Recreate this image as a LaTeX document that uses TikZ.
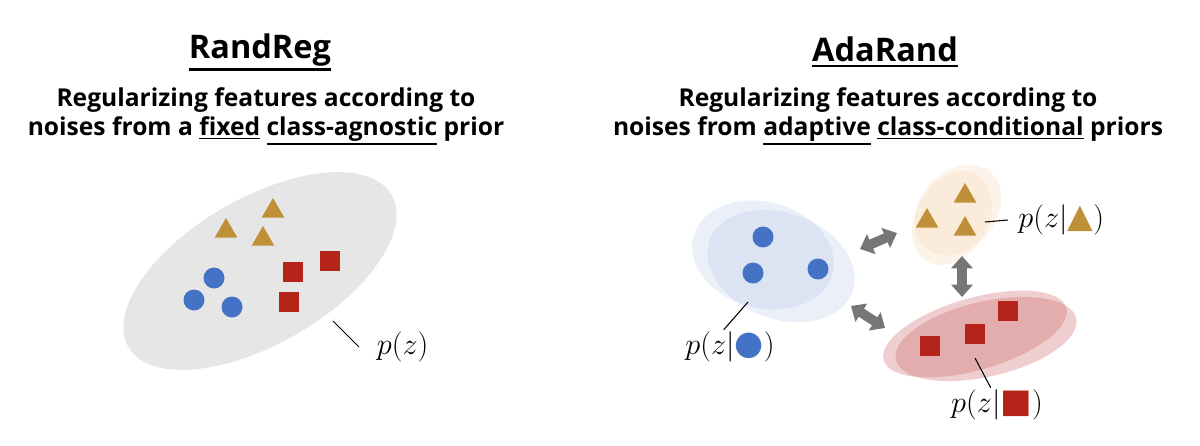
\documentclass[tikz,border=0pt]{standalone}
\usepackage[no-math]{fontspec}
\usetikzlibrary{arrows.meta,shapes.geometric}
\newfontfamily\headfont{Open Sans}
\newfontfamily\symfont{DejaVu Sans}
\definecolor{dotblue}{HTML}{4472C4}
\definecolor{trigold}{HTML}{BF9038}
\definecolor{sqred}{HTML}{B52418}
\definecolor{arrgray}{HTML}{767676}
\definecolor{priorgray}{HTML}{E6E6E6}
\definecolor{blueblob}{HTML}{C0CEEB}
\definecolor{goldblob}{HTML}{F6DABD}
\definecolor{redblob}{HTML}{CC6A6A}
% underline with a chosen thickness
\newcommand\ulbar[2][0.9pt]{\leavevmode\vtop{\hbox{#2}\kern1.3pt\hrule height #1}}
% coloured class mark inside a label
\newcommand\clsmark[2]{\mbox{\textcolor{#1}{\symfont\fontsize{19}{19}\selectfont #2}}}
\begin{document}
\begin{tikzpicture}[x=0.2mm,y=-0.2mm,
    dot/.style={circle,fill=dotblue,inner sep=0pt,minimum size=4.2mm},
    tri/.style={regular polygon,regular polygon sides=3,fill=trigold,inner sep=0pt,minimum size=5.2mm},
    sq/.style={rectangle,fill=sqred,inner sep=0pt,minimum size=3.9mm},
    blob/.style={ellipse,inner sep=0pt,opacity=0.33},
    lead/.style={line width=0.6pt},
    swap/.style={line width=5.5pt,draw=arrgray,{Triangle[width=12pt,length=7pt]}-{Triangle[width=12pt,length=7pt]}},
    lbl/.style={font=\fontsize{17}{20}\selectfont,inner sep=1pt},
    title/.style={font=\headfont\bfseries\fontsize{18.5}{22}\selectfont},
    sub/.style={font=\headfont\bfseries\fontsize{14}{16.5}\selectfont,align=center}
]
\useasboundingbox (0,0) rectangle (1200,445);

% RandReg
\node[title] (rr) at (260,52) {\ulbar[1.3pt]{RandReg}};
\node[sub] (rrsub) at (266,116) {Regularizing features according to\\noises from a \ulbar{fixed} \ulbar{class-agnostic} prior};

\node[ellipse,fill=priorgray,inner sep=0pt,minimum width=60.8mm,minimum height=29.2mm,rotate=30] (prior) at (260,271) {};
\node[tri] (t1) at (273,211) {};
\node[tri] (t2) at (226,231) {};
\node[tri] (t3) at (263,239) {};
\node[dot] (c1) at (214,278) {};
\node[dot] (c2) at (194,300) {};
\node[dot] (c3) at (232,307) {};
\node[sq] (s1) at (293,272) {};
\node[sq] (s2) at (330,261) {};
\node[sq] (s3) at (289,302) {};

\coordinate (lz) at (333,321);
\node[lbl,anchor=west,inner xsep=3.5mm] (pz) at (359,347) {$p(z)$};
\draw[lead] (lz) -- (pz.west);

% AdaRand
\node[title] (ar) at (885,52) {\ulbar[1.3pt]{AdaRand}};
\node[sub] (arsub) at (888,116) {Regularizing features according to\\noises from \ulbar{adaptive} \ulbar{class-conditional} priors};

\node[blob,fill=blueblob,minimum width=28.8mm,minimum height=21.2mm,rotate=-15] (bl1) at (763,255) {};
\node[blob,fill=blueblob,minimum width=30.4mm,minimum height=21.2mm,rotate=-20] (bl2) at (781,266) {};
\node[blob,fill=goldblob,minimum width=20mm,minimum height=14.4mm,rotate=60] (gd1) at (952,218) {};
\node[blob,fill=goldblob,minimum width=20mm,minimum height=15.2mm,rotate=50] (gd2) at (958,210) {};
\node[blob,fill=redblob,minimum width=38mm,minimum height=14.4mm,rotate=16] (rd1) at (975,334) {};
\node[blob,fill=redblob,minimum width=37mm,minimum height=15mm,rotate=13] (rd2) at (986,339) {};

\node[dot] (bc1) at (763,237) {};
\node[dot] (bc2) at (753,273) {};
\node[dot] (bc3) at (818,269) {};
\node[tri] (gt1) at (965,196) {};
\node[tri] (gt2) at (927,221) {};
\node[tri] (gt3) at (965,229) {};
\node[sq] (rs1) at (1008,311) {};
\node[sq] (rs2) at (975,334) {};
\node[sq] (rs3) at (930,346) {};

\coordinate (ab1) at (860,249);
\coordinate (ag1) at (897,233);
\coordinate (ag2) at (962,256);
\coordinate (ar2) at (962,297);
\coordinate (ab3) at (851,306);
\coordinate (ar3) at (885,328);
\draw[swap] (ab1) -- (ag1);
\draw[swap] (ag2) -- (ar2);
\draw[swap] (ab3) -- (ar3);

\coordinate (lb) at (748,302);
\coordinate (lg) at (985,222);
\coordinate (lr) at (975,358);
\node[lbl] (pb) at (730,347) {$p(z|\clsmark{dotblue}{●})$};
\node[lbl,anchor=west,inner xsep=2mm] (pg) at (1008,220) {$p(z|\clsmark{trigold}{▲})$};
\node[lbl] (pr) at (997,405) {$p(z|\clsmark{sqred}{■})$};
\draw[lead] (lb) -- (pb.110);
\draw[lead] (lg) -- (pg.west);
\draw[lead] (lr) -- (pr.110);
\end{tikzpicture}
\end{document}
